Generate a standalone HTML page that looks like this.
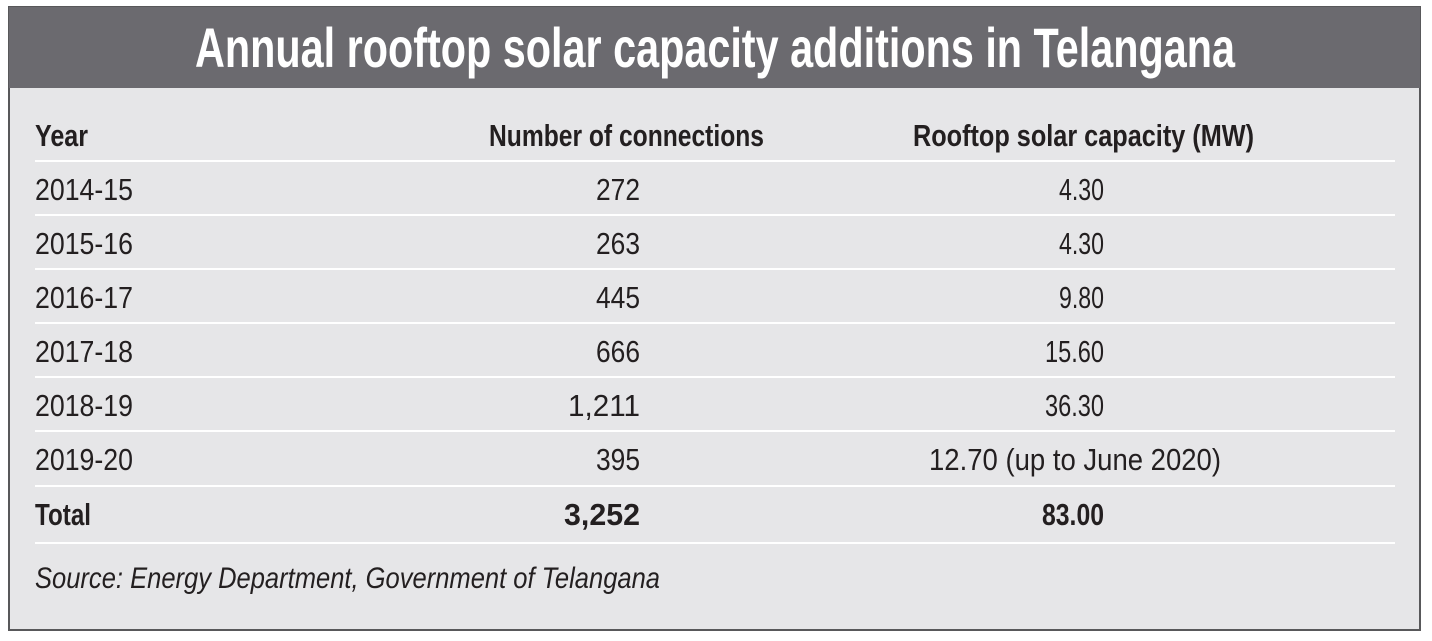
<!DOCTYPE html>
<html><head><meta charset="utf-8"><style>
html,body{margin:0;padding:0;background:#fff;}
svg{display:block;}
text{font-family:"Liberation Sans",sans-serif;fill:#231f20;}
</style></head><body>
<svg width="1432" height="641" viewBox="0 0 1432 641" xmlns="http://www.w3.org/2000/svg">
<rect x="9" y="7" width="1411" height="623" fill="#e6e6e8" stroke="#58585a" stroke-width="2"/>
<rect x="9" y="7" width="1411" height="81" fill="#6b6a6f"/>
<text x="195" y="67" font-size="56" font-weight="bold" style="fill:#fff" textLength="1040" lengthAdjust="spacingAndGlyphs">Annual rooftop solar capacity additions in Telangana</text>
<g stroke="#ffffff" stroke-width="2">
<line x1="35" x2="1395" y1="161" y2="161"/>
<line x1="35" x2="1395" y1="215" y2="215"/>
<line x1="35" x2="1395" y1="269" y2="269"/>
<line x1="35" x2="1395" y1="323" y2="323"/>
<line x1="35" x2="1395" y1="377" y2="377"/>
<line x1="35" x2="1395" y1="431" y2="431"/>
<line x1="35" x2="1395" y1="486" y2="486"/>
<line x1="35" x2="1395" y1="543" y2="543"/>
</g>
<g font-size="31" font-weight="bold">
<text x="35" y="146" textLength="53" lengthAdjust="spacingAndGlyphs">Year</text>
<text x="489" y="146" textLength="275" lengthAdjust="spacingAndGlyphs">Number of connections</text>
<text x="913" y="146" textLength="341" lengthAdjust="spacingAndGlyphs">Rooftop solar capacity (MW)</text>
</g>
<g font-size="31">
<text x="35" y="200" textLength="98" lengthAdjust="spacingAndGlyphs">2014-15</text>
<text x="35" y="254" textLength="98" lengthAdjust="spacingAndGlyphs">2015-16</text>
<text x="35" y="308" textLength="98" lengthAdjust="spacingAndGlyphs">2016-17</text>
<text x="35" y="362" textLength="98" lengthAdjust="spacingAndGlyphs">2017-18</text>
<text x="35" y="416" textLength="98" lengthAdjust="spacingAndGlyphs">2018-19</text>
<text x="35" y="470" textLength="98" lengthAdjust="spacingAndGlyphs">2019-20</text>
<text x="596" y="200" textLength="44" lengthAdjust="spacingAndGlyphs">272</text>
<text x="596" y="254" textLength="44" lengthAdjust="spacingAndGlyphs">263</text>
<text x="596" y="308" textLength="44" lengthAdjust="spacingAndGlyphs">445</text>
<text x="596" y="362" textLength="44" lengthAdjust="spacingAndGlyphs">666</text>
<text x="568" y="416" textLength="72" lengthAdjust="spacingAndGlyphs">1,211</text>
<text x="596" y="470" textLength="44" lengthAdjust="spacingAndGlyphs">395</text>
<text x="1059" y="200" textLength="45" lengthAdjust="spacingAndGlyphs">4.30</text>
<text x="1059" y="254" textLength="45" lengthAdjust="spacingAndGlyphs">4.30</text>
<text x="1059" y="308" textLength="45" lengthAdjust="spacingAndGlyphs">9.80</text>
<text x="1045" y="362" textLength="59" lengthAdjust="spacingAndGlyphs">15.60</text>
<text x="1045" y="416" textLength="59" lengthAdjust="spacingAndGlyphs">36.30</text>
<text x="929" y="470" textLength="292" lengthAdjust="spacingAndGlyphs">12.70 (up to June 2020)</text>
</g>
<g font-size="31" font-weight="bold">
<text x="35" y="525" textLength="56" lengthAdjust="spacingAndGlyphs">Total</text>
<text x="564" y="525" textLength="76" lengthAdjust="spacingAndGlyphs">3,252</text>
<text x="1042" y="525" textLength="62" lengthAdjust="spacingAndGlyphs">83.00</text>
</g>
<text x="35" y="588" font-size="30" font-style="italic" textLength="625" lengthAdjust="spacingAndGlyphs">Source: Energy Department, Government of Telangana</text>
</svg>
</body></html>
